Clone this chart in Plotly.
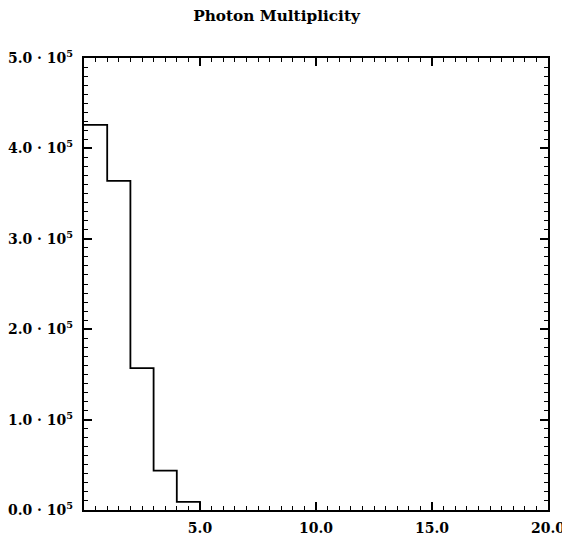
import plotly.graph_objects as go

# Histogram data (bin edges and counts)
bin_edges = [0, 1, 2, 3, 4, 5]
counts = [426000, 364000, 157000, 43500, 9000]

x_tick_vals = [5, 10, 15, 20]
x_tick_text = ["5.0", "10.0", "15.0", "20.0"]
y_tick_vals = [0, 100000, 200000, 300000, 400000, 500000]
y_tick_text = ["0.0 · 10<sup>5</sup>", "1.0 · 10<sup>5</sup>", "2.0 · 10<sup>5</sup>",
               "3.0 · 10<sup>5</sup>", "4.0 · 10<sup>5</sup>", "5.0 · 10<sup>5</sup>"]

xs = list(bin_edges)
ys = list(counts) + [0]

font_family = "DejaVu Serif"
W, H = 562, 527  # page body has an 8px margin; this fills the 570x543 window

fig = go.Figure()
fig.add_trace(go.Scatter(
    x=xs, y=ys, mode="lines", line=dict(shape="hv", color="black", width=1.8),
    showlegend=False, hoverinfo="skip"))

axis_common = dict(
    showline=True, linecolor="black", linewidth=2, mirror="ticks",
    ticks="inside", ticklen=8, tickwidth=1.5, tickcolor="black",
    showgrid=False, zeroline=False, automargin=False,
    ticklabeloverflow="allow",
    tickfont=dict(family=font_family, size=14, color="black", weight="bold"),
)

fig.update_layout(
    width=W, height=H,
    margin=dict(l=76, r=22, t=50, b=25),
    paper_bgcolor="white", plot_bgcolor="white",
    title=dict(text="<b>Photon Multiplicity</b>", x=268.5 / W, xanchor="center",
               yref="container", y=1 - 7.5 / H, yanchor="middle",
               font=dict(family=font_family, size=15.3, color="black")),
    xaxis=dict(range=[0, 20], tickvals=x_tick_vals, ticktext=x_tick_text,
               ticklabelstandoff=4,
               minor=dict(dtick=0.5, ticks="inside", ticklen=4, tickcolor="black", tickwidth=1.2),
               **axis_common),
    yaxis=dict(range=[0, 500000], tickvals=y_tick_vals, ticktext=y_tick_text,
               ticklabelstandoff=6,
               minor=dict(dtick=10000, ticks="inside", ticklen=4, tickcolor="black", tickwidth=1.2),
               **axis_common),
)

fig.write_html("out.html")
